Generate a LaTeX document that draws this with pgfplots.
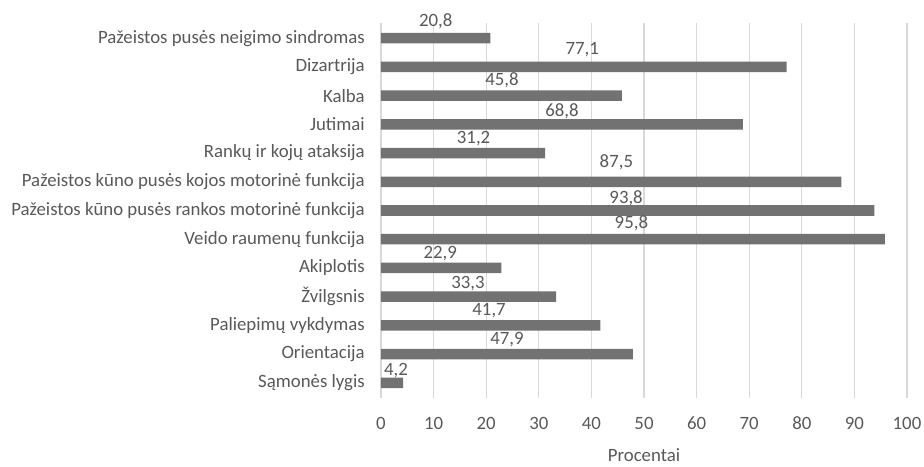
\documentclass[border=0pt]{standalone}
\usepackage{pgfplots}
\pgfplotsset{compat=1.18}
\usepackage{pgfplotstable}
\usepackage{fontspec}
\setmainfont{Carlito}

\definecolor{bargray}{HTML}{727272}
\definecolor{txtgray}{HTML}{595959}
\definecolor{gridgray}{HTML}{D9D9D9}
\newcommand\fsz{\fontsize{14.1}{17}\selectfont}

% idx: row from the bottom, v: percentage,
% dx, dy: nudge of the value label from the middle of its bar
\pgfplotstableread{
idx v    dx    dy
0   4.2  0.75  0.44
1   47.9 0.0   0.49
2   41.7 -0.3  0.50
3   33.3 -0.1  0.44
4   22.9 -0.2  0.50
5   95.8 -0.3  0.56
6   93.8 -0.3  0.43
7   87.5 1.0   0.69
8   31.2 2.0   0.52
9   68.8 0.0   0.45
10  45.8 0.1   0.54
11  77.1 -0.3  0.60
12  20.8 0.0   0.58
}\data

\begin{document}
\begin{tikzpicture}
\begin{axis}[
  at={(285.75pt,51.75pt)}, anchor=south west,
  scale only axis, width=394.5pt, height=281.25pt,
  xmin=0, xmax=100, ymin=-0.53, ymax=12.53,
  xtick={0,10,...,100},
  ytick={0,...,12},
  yticklabels={
    Sąmonės lygis,
    Orientacija,
    Paliepimų vykdymas,
    Žvilgsnis,
    Akiplotis,
    Veido raumenų funkcija,
    Pažeistos kūno pusės rankos motorinė funkcija,
    Pažeistos kūno pusės kojos motorinė funkcija,
    Rankų ir kojų ataksija,
    Jutimai,
    Kalba,
    Dizartrija,
    Pažeistos pusės neigimo sindromas},
  xmajorgrids,
  major grid style={draw=gridgray, line width=0.9pt},
  axis line style={draw=none},
  tick style={draw=none},
  /pgf/number format/assume math mode=true,
  tick label style={font=\fsz, text=txtgray, inner sep=0pt},
  yticklabel style={anchor=east, xshift=-12pt},
  xticklabel style={anchor=north, yshift=-14pt},
  xlabel={Procentai},
  xlabel style={font=\fsz, text=txtgray, at={(axis description cs:0.5,0)},
    anchor=center, yshift=-42.75pt},
  clip=false,
]
\addplot[xbar, bar width=7.9pt, fill=bargray, draw=none]
  table[x=v, y=idx] {\data};
\addplot[draw=none, mark=none, nodes near coords, point meta=explicit,
  nodes near coords={\pgfmathprintnumber[fixed, fixed zerofill, precision=1,
    use comma, assume math mode=true]{\pgfplotspointmeta}},
  nodes near coords style={anchor=center, font=\fsz, text=txtgray, inner sep=0pt}]
  table[x expr=\thisrow{v}/2+\thisrow{dx}, y expr=\thisrow{idx}+\thisrow{dy}, meta=v] {\data};
\end{axis}
\pgfresetboundingbox
\useasboundingbox (0,0) rectangle (693pt,350.25pt);
\end{tikzpicture}
\end{document}
